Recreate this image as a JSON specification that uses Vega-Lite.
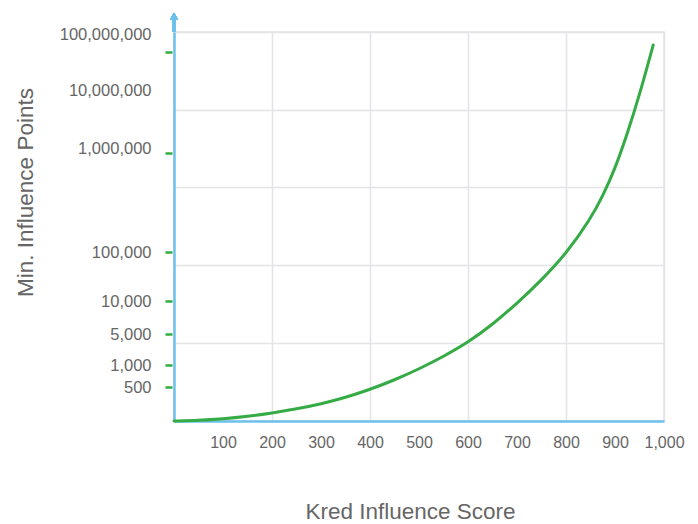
{
  "$schema": "https://vega.github.io/schema/vega-lite/v6.json",
  "width": 490,
  "height": 389,
  "autosize": {"type": "none"},
  "padding": {"left": 174, "top": 32, "right": 34, "bottom": 103},
  "background": "white",
  "config": {
    "view": {"stroke": "#e4e4e8", "strokeWidth": 1.5},
    "font": "Liberation Sans"
  },
  "data": {
    "values": [
      {"score": 0, "pos": 0},
      {"score": 50, "pos": 0.5},
      {"score": 100, "pos": 2},
      {"score": 150, "pos": 4.5},
      {"score": 200, "pos": 8},
      {"score": 250, "pos": 12},
      {"score": 300, "pos": 17},
      {"score": 350, "pos": 23.5},
      {"score": 400, "pos": 31.5},
      {"score": 450, "pos": 41},
      {"score": 500, "pos": 52},
      {"score": 550, "pos": 64.5},
      {"score": 600, "pos": 78.5},
      {"score": 650, "pos": 96.5},
      {"score": 700, "pos": 117.5},
      {"score": 750, "pos": 141},
      {"score": 800, "pos": 167},
      {"score": 850, "pos": 202},
      {"score": 875, "pos": 225},
      {"score": 900, "pos": 252},
      {"score": 925, "pos": 287},
      {"score": 950, "pos": 326},
      {"score": 978, "pos": 376}
    ]
  },
  "resolve": {"scale": {"y": "independent"}, "axis": {"y": "independent"}},
  "layer": [
    {
      "mark": {"type": "line", "color": "#35ab45", "strokeWidth": 3, "interpolate": "basis", "strokeCap": "round"},
      "encoding": {
        "x": {
          "field": "score", "type": "quantitative",
          "scale": {"domain": [0, 1000], "nice": false},
          "axis": {
            "title": "Kred Influence Score",
            "titleFont": "Liberation Sans", "titleFontSize": 22.5, "titleFontWeight": "normal", "titleColor": "#666666",
            "titleX": 236, "titleY": 97, "titleBaseline": "alphabetic",
            "values": [100, 200, 300, 400, 500, 600, 700, 800, 900, 1000],
            "labelExpr": "format(datum.value, ',')",
            "labelFont": "Liberation Sans", "labelFontSize": 16, "labelColor": "#666666",
            "labelPadding": 13, "labelFlush": false, "labelOverlap": false,
            "ticks": false,
            "domainColor": "#6cc0ea", "domainWidth": 2.5,
            "grid": true, "gridColor": "#e4e4e8", "gridWidth": 1.5,
            "gridOpacity": {"condition": {"test": "datum.value % 200 === 0", "value": 1}, "value": 0}
          }
        },
        "y": {
          "field": "pos", "type": "quantitative",
          "scale": {"domain": [0, 389], "nice": false},
          "axis": {
            "orient": "left",
            "title": "Min. Influence Points",
            "titleFont": "Liberation Sans", "titleFontSize": 22.5, "titleFontWeight": "normal", "titleColor": "#666666",
            "titleX": -142, "titleY": 160, "titleBaseline": "alphabetic", "titleAngle": -90,
            "values": [34, 56, 87, 120, 169, 273, 331, 387],
            "labelExpr": "datum.value === 34 ? '500' : datum.value === 56 ? '1,000' : datum.value === 87 ? '5,000' : datum.value === 120 ? '10,000' : datum.value === 169 ? '100,000' : datum.value === 273 ? '1,000,000' : datum.value === 331 ? '10,000,000' : '100,000,000'",
            "labelFont": "Liberation Sans", "labelFontSize": 16.5, "labelColor": "#666666",
            "labelPadding": 23, "labelFlush": false, "labelOverlap": false, "labelBound": false,
            "ticks": false,
            "domainColor": "#6cc0ea", "domainWidth": 2.5,
            "grid": false
          }
        }
      }
    },
    {
      "mark": {"type": "rule", "color": "#6cc0ea", "strokeWidth": 2.5, "clip": false},
      "encoding": {
        "x": {"datum": 0, "type": "quantitative", "scale": {"domain": [0, 1000], "nice": false}},
        "y": {
          "datum": 389, "type": "quantitative",
          "scale": {"domain": [0, 389], "nice": false},
          "axis": {
            "orient": "left",
            "title": null,
            "offset": 2,
            "values": [34, 56, 78, 87, 120, 156, 169, 234, 268, 311, 369, 389],
            "labels": false,
            "domain": false,
            "ticks": true, "tickSize": 7, "tickWidth": 2.5, "tickColor": "#2fae3c",
            "tickOpacity": {"condition": {"test": "indexof([34, 56, 87, 120, 169, 268, 369], datum.value) >= 0", "value": 1}, "value": 0},
            "grid": true, "gridColor": "#e4e4e8", "gridWidth": 1.5,
            "gridOpacity": {"condition": {"test": "indexof([78, 156, 234, 311, 389], datum.value) >= 0", "value": 1}, "value": 0}
          }
        },
        "y2": {"datum": 404}
      }
    },
    {
      "mark": {"type": "point", "shape": "triangle-up", "filled": true, "color": "#6cc0ea", "opacity": 1, "size": 60, "clip": false},
      "encoding": {
        "x": {"datum": 0, "type": "quantitative", "scale": {"domain": [0, 1000], "nice": false}},
        "y": {"datum": 405, "type": "quantitative", "scale": {"domain": [0, 389], "nice": false}, "axis": null}
      }
    }
  ]
}
